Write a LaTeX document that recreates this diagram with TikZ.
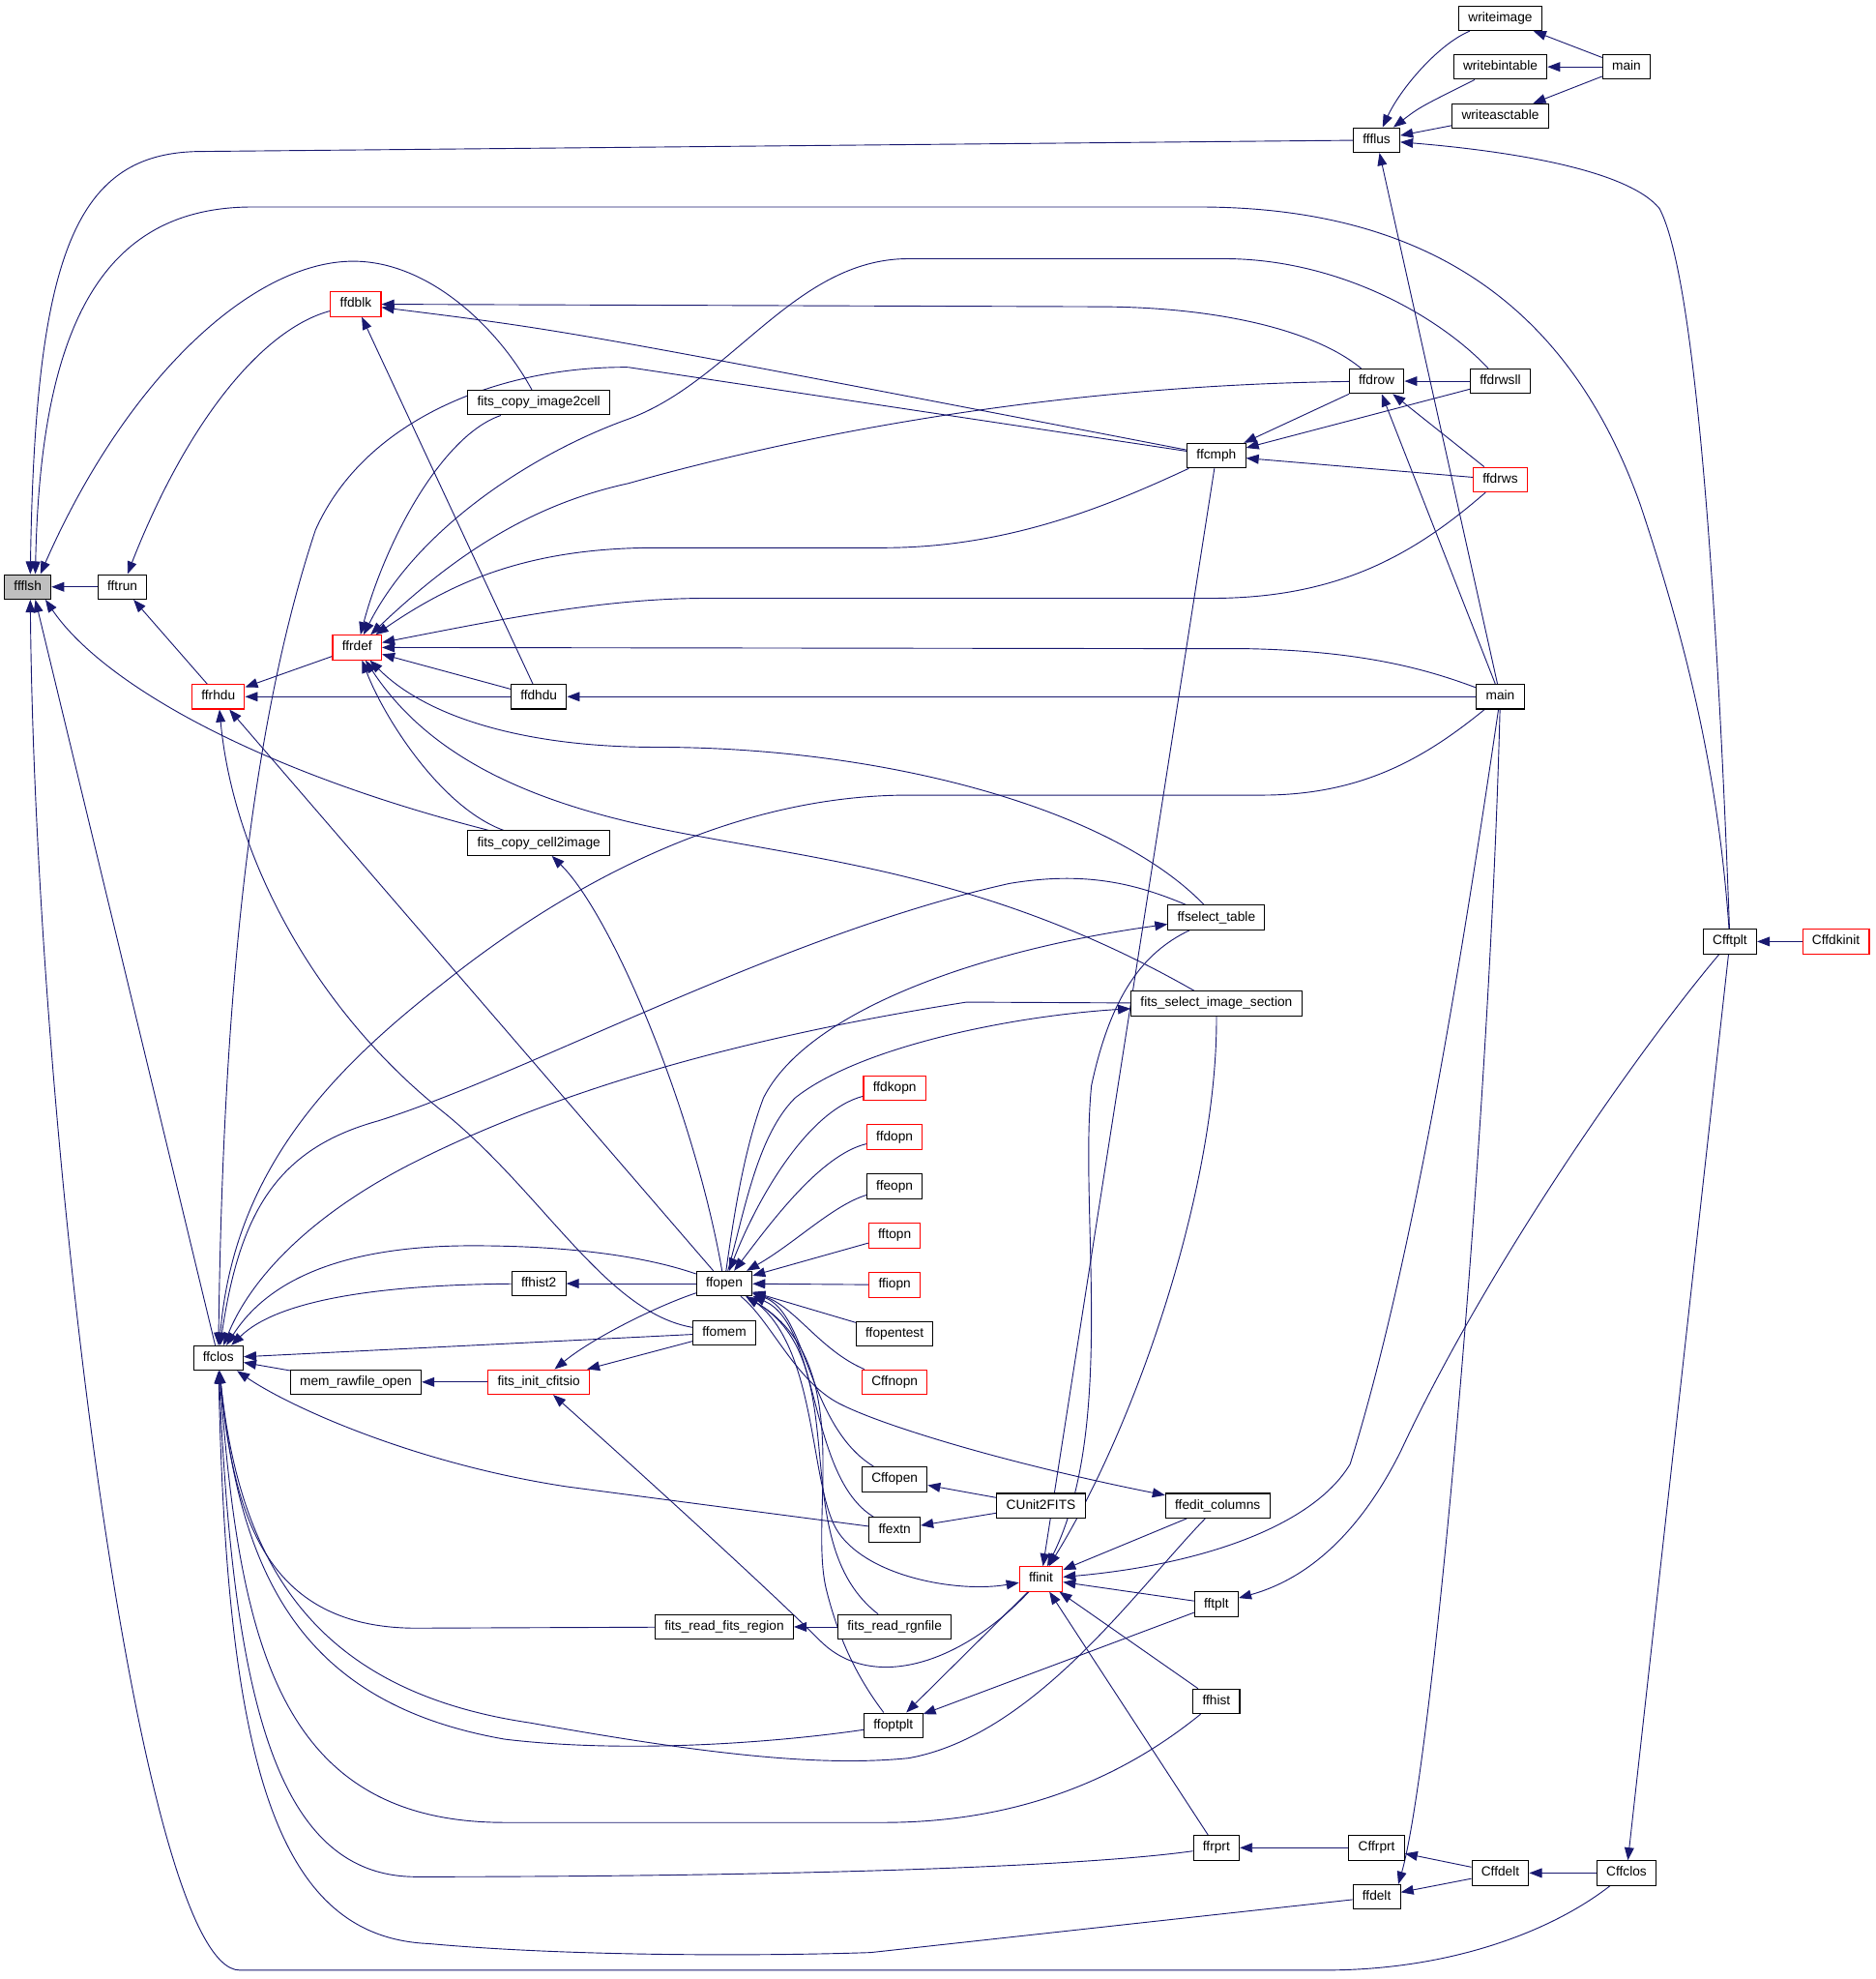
\documentclass[tikz,border=0pt]{standalone}
\usepackage{fontspec}
\setmainfont{Liberation Sans}
\usetikzlibrary{arrows.meta,backgrounds}
\definecolor{callblue}{HTML}{191970}
\begin{document}
\begin{tikzpicture}[x=1pt,y=-1pt,
        >={Triangle[length=10pt,width=7.5pt]},
        fn/.style={draw=black,fill=white,line width=.8pt,minimum height=19.5pt,
            inner xsep=7.5pt,inner ysep=0pt,text height=7.6pt,text depth=2.2pt,
            font=\fontsize{10.5}{12}\selectfont},
        hot/.style={fn,draw=red},
        root/.style={fn,fill=black!25},
        call/.style={<-,draw=callblue,line width=.7pt}]
    \useasboundingbox (0,0) rectangle (1486,1568);
    \node[root] (ffflsh) at (22,465) {ffflsh};
    \node[fn] (fftrun) at (97,465) {fftrun};
    \node[hot] (ffrhdu) at (173,552) {ffrhdu};
    \node[hot] (ffdblk) at (282,241) {ffdblk};
    \node[hot] (ffrdef) at (283,513) {ffrdef};
    \node[fn] (imgtocell) at (427,319) {fits\_copy\_image2cell};
    \node[fn] (ffdhdu) at (427,552) {ffdhdu};
    \node[fn] (celltoimg) at (427,668) {fits\_copy\_cell2image};
    \node[fn] (ffclos) at (173,1076) {ffclos};
    \node[fn] (ffhist2) at (427,1017) {ffhist2};
    \node[fn] (ffopen) at (574,1017) {ffopen};
    \node[fn] (ffomem) at (574,1056) {ffomem};
    \node[fn] (rawopen) at (282,1095) {mem\_rawfile\_open};
    \node[hot] (initcfitsio) at (427,1095) {fits\_init\_cfitsio};
    \node[fn] (readregion) at (574,1289) {fits\_read\_fits\_region};
    \foreach \n/\y/\s in {ffdkopn/862/hot,ffdopn/901/hot,ffeopn/940/fn,fftopn/979/hot,
            ffiopn/1018/hot,ffopentest/1057/fn,Cffnopn/1095/hot}
        \node[\s] (\n) at (709,\y) {\n};
    \node[fn] (Cffopen) at (709,1172) {Cffopen};
    \node[fn] (ffextn) at (709,1212) {ffextn};
    \node[fn] (readrgnfile) at (709,1289) {fits\_read\_rgnfile};
    \node[fn] (ffoptplt) at (708,1367) {ffoptplt};
    \node[fn] (CUnit2FITS) at (825,1193) {CUnit2FITS};
    \node[hot] (ffinit) at (825,1251) {ffinit};
    \node[fn] (ffcmph) at (964,361) {ffcmph};
    \node[fn] (selecttable) at (964,727) {ffselect\_table};
    \node[fn] (selectsection) at (964,795) {fits\_select\_image\_section};
    \node[fn] (editcols) at (965,1193) {ffedit\_columns};
    \node[fn] (fftplt) at (964,1271) {fftplt};
    \node[fn] (ffhist) at (964,1348) {ffhist};
    \node[fn] (ffrprt) at (964,1464) {ffrprt};
    \node[fn] (ffflus) at (1091,111) {ffflus};
    \node[fn] (ffdrow) at (1091,302) {ffdrow};
    \node[fn] (Cffrprt) at (1091,1464) {Cffrprt};
    \node[fn] (ffdelt) at (1091,1503) {ffdelt};
    \node[fn] (writeimage) at (1189,14.5) {writeimage};
    \node[fn] (writebintable) at (1189,53) {writebintable};
    \node[fn] (writeasctable) at (1189,92) {writeasctable};
    \node[fn] (ffdrwsll) at (1189,302) {ffdrwsll};
    \node[hot] (ffdrws) at (1189,380) {ffdrws};
    \node[fn] (mainb) at (1189,552) {main};
    \node[fn] (Cffdelt) at (1189,1484) {Cffdelt};
    \node[fn] (maina) at (1289,53) {main};
    \node[fn] (Cffclos) at (1289,1484) {Cffclos};
    \node[fn] (Cfftplt) at (1371,746) {Cfftplt};
    \node[hot] (Cffdkinit) at (1455,746) {Cffdkinit};
    \begin{scope}[on background layer]
    \fill[white] (0,0) rectangle (1486,1568);
    \foreach \a/\b in {ffflsh/fftrun,fftrun/ffrhdu,ffrhdu/ffrdef,ffrhdu/ffdhdu,ffrhdu/ffopen,
            ffdblk/ffdhdu,ffrdef/ffdhdu,ffdhdu/mainb,ffhist2/ffopen,ffclos/ffomem,ffclos/rawopen,
            rawopen/initcfitsio,initcfitsio/ffomem,readregion/readrgnfile,ffopen/fftopn,ffopen/ffiopn,
            ffopen/ffopentest,Cffopen/CUnit2FITS,ffextn/CUnit2FITS,ffinit/ffcmph,ffinit/editcols,
            ffinit/fftplt,ffinit/ffhist,ffinit/ffrprt,ffoptplt/ffinit,ffoptplt/fftplt,ffrprt/Cffrprt,
            Cffrprt/Cffdelt,ffdelt/Cffdelt,Cffdelt/Cffclos,Cffclos/Cfftplt,Cfftplt/Cffdkinit,
            ffflus/writeasctable,writeimage/maina,writebintable/maina,writeasctable/maina,
            ffflus/mainb,ffdrow/mainb,ffdrow/ffdrws,ffdrow/ffdrwsll,ffcmph/ffdrow,ffcmph/ffdrwsll,
            ffcmph/ffdrws}
        \draw[call] (\a) -- (\b);
    \draw[call] ([xshift=2pt]ffflsh.north) .. controls (28,200) and (60,120) .. (160,120) -- (ffflus);
    \draw[call] ([xshift=6pt]ffflsh.north) .. controls (32,260) and (80,164) .. (200,164) -- (950,164)
        .. controls (1150,164) and (1250,260) .. (1300,400) .. controls (1340,520) and (1362,620) .. (Cfftplt);
    \draw[call] ([xshift=10pt]ffflsh.north) .. controls (100,300) and (200,207) .. (280,207)
        .. controls (340,207) and (395,260) .. (imgtocell);
    \draw[call] ([xshift=6pt]ffflsh.south) -- (ffclos);
    \draw[call] ([xshift=14pt]ffflsh.south) .. controls (80,540) and (200,610) .. (celltoimg);
    \draw[call] ([xshift=2pt]ffflsh.south) .. controls (28,900) and (110,1561) .. (190,1561) -- (1050,1561)
        .. controls (1150,1561) and (1230,1530) .. (Cffclos);
    \draw[call] (fftrun) .. controls (150,330) and (210,260) .. (ffdblk);
    \draw[call] (ffdblk) -- (870,243) .. controls (960,243) and (1040,260) .. (ffdrow);
    \draw[call] (ffdblk) .. controls (450,262) .. (ffcmph);
    \draw[call] (ffrdef) .. controls (305,430) and (350,345) .. (imgtocell);
    \draw[call] (ffrdef) .. controls (330,420) and (420,360) .. (498,332) .. controls (580,302) and (630,205) .. (720,205)
        -- (970,205) .. controls (1060,205) and (1140,250) .. (ffdrwsll);
    \draw[call] (ffrdef) .. controls (360,440) and (420,400) .. (498,383) .. controls (650,340) and (850,305) .. (ffdrow);
    \draw[call] (ffrdef) .. controls (360,460) and (420,434) .. (520,434) -- (700,434)
        .. controls (800,434) and (880,400) .. (ffcmph);
    \draw[call] (ffrdef) .. controls (400,490) and (480,474) .. (560,474) -- (960,474)
        .. controls (1060,474) and (1120,440) .. (ffdrws);
    \draw[call] (ffrdef) -- (990,514) .. controls (1080,516) and (1130,530) .. (mainb);
    \draw[call] (ffrdef) .. controls (340,570) and (420,592) .. (520,592) .. controls (700,592) and (880,640) .. (selecttable);
    \draw[call] (ffrdef) .. controls (340,600) and (420,635) .. (520,656) .. controls (640,681) and (780,690) .. (selectsection);
    \draw[call] (ffrdef) .. controls (305,570) and (350,640) .. (celltoimg);
    \draw[call] (ffrhdu) .. controls (185,680) and (250,800) .. (350,880) .. controls (430,944) and (480,1040) .. (ffomem);
    \draw[call] (ffclos) .. controls (176,850) and (190,600) .. (250,420) .. controls (290,330) and (400,290) .. (498,291)
        -- (ffcmph);
    \draw[call] (ffclos) .. controls (185,930) and (260,850) .. (350,780) .. controls (450,700) and (580,630) .. (720,630)
        -- (1000,630) .. controls (1080,630) and (1130,600) .. (mainb);
    \draw[call] (ffclos) .. controls (190,960) and (220,910) .. (300,888) .. controls (420,850) and (620,740) .. (800,700)
        .. controls (860,690) and (900,700) .. (selecttable);
    \draw[call] (ffclos) .. controls (200,1010) and (250,960) .. (330,920) .. controls (450,860) and (600,820) .. (766,794)
        -- (selectsection);
    \draw[call] (ffclos) .. controls (215,1010) and (280,987) .. (374,987) .. controls (450,987) and (510,995) .. (ffopen);
    \draw[call] (ffclos) .. controls (220,1030) and (300,1018) .. (ffhist2);
    \draw[call] (ffclos) .. controls (230,1115) and (330,1160) .. (450,1178) -- (ffextn);
    \draw[call] (ffclos) .. controls (185,1200) and (210,1290) .. (330,1290) -- (readregion);
    \draw[call] (ffclos) .. controls (190,1250) and (240,1350) .. (400,1378) .. controls (500,1390) and (620,1380) .. (ffoptplt);
    \draw[call] (ffclos) .. controls (190,1240) and (250,1340) .. (420,1365) .. controls (560,1390) and (650,1400) .. (720,1393)
        .. controls (820,1375) and (900,1260) .. (editcols);
    \draw[call] (ffclos) .. controls (190,1300) and (220,1444) .. (400,1444) -- (700,1444)
        .. controls (820,1444) and (900,1400) .. (ffhist);
    \draw[call] (ffclos) .. controls (185,1350) and (220,1487) .. (330,1487) .. controls (600,1487) and (850,1480) .. (ffrprt);
    \draw[call] (ffclos) .. controls (180,1400) and (220,1535) .. (340,1540) .. controls (450,1550) and (600,1550) .. (690,1547)
        -- (ffdelt);
    \draw[call] (celltoimg) .. controls (485,725) and (550,880) .. (ffopen);
    \draw[call] (selecttable) .. controls (780,752) and (640,800) .. (605,870) .. controls (590,910) and (582,960) .. (ffopen);
    \draw[call] (selectsection) .. controls (800,805) and (680,830) .. (630,870) .. controls (600,900) and (590,960) .. (ffopen);
    \draw[call] (ffopen) .. controls (600,950) and (640,880) .. (ffdkopn);
    \draw[call] (ffopen) .. controls (610,970) and (650,915) .. (ffdopn);
    \draw[call] (ffopen) .. controls (630,985) and (660,955) .. (ffeopn);
    \draw[call] (ffopen) .. controls (630,1035) and (650,1070) .. (Cffnopn);
    \draw[call] (ffopen) .. controls (640,1040) and (640,1130) .. (Cffopen);
    \draw[call] (ffopen) .. controls (650,1050) and (640,1170) .. (ffextn);
    \draw[call] (ffopen) .. controls (680,1080) and (620,1220) .. (readrgnfile);
    \draw[call] (ffopen) .. controls (680,1080) and (640,1200) .. (655,1260) .. controls (665,1300) and (680,1330) .. (ffoptplt);
    \draw[call] (ffinit) .. controls (760,1262) and (690,1250) .. (665,1215) .. controls (640,1180) and (650,1060) .. (ffopen);
    \draw[call] (editcols) .. controls (800,1160) and (700,1130) .. (665,1112) .. controls (630,1094) and (610,1045) .. (ffopen);
    \draw[call] (initcfitsio) .. controls (470,1060) and (520,1035) .. (ffopen);
    \draw[call] (initcfitsio) .. controls (500,1160) and (610,1260) .. (650,1300) .. controls (690,1340) and (760,1320) .. (ffinit);
    \draw[call] (ffinit) .. controls (885,1130) and (855,960) .. (865,860) .. controls (880,790) and (905,755) .. (selecttable);
    \draw[call] (ffinit) .. controls (900,1130) and (965,940) .. (selectsection);
    \draw[call] (ffinit) .. controls (950,1240) and (1040,1210) .. (1070,1160) .. controls (1120,1000) and (1160,750) .. (mainb);
    \draw[call] ([xshift=-2pt]ffdelt.north east) .. controls (1135,1400) and (1180,900) .. (mainb);
    \draw[call] (fftplt) .. controls (1040,1250) and (1080,1210) .. (1110,1150) .. controls (1180,1000) and (1300,830) .. (Cfftplt);
    \draw[call] (ffflus) .. controls (1200,120) and (1290,135) .. (1315,165) .. controls (1345,220) and (1362,500) .. (Cfftplt);
    \draw[call] (ffflus) .. controls (1110,70) and (1140,35) .. (writeimage);
    \draw[call] (ffflus) .. controls (1125,85) .. (writebintable);
    \end{scope}
\end{tikzpicture}
\end{document}
